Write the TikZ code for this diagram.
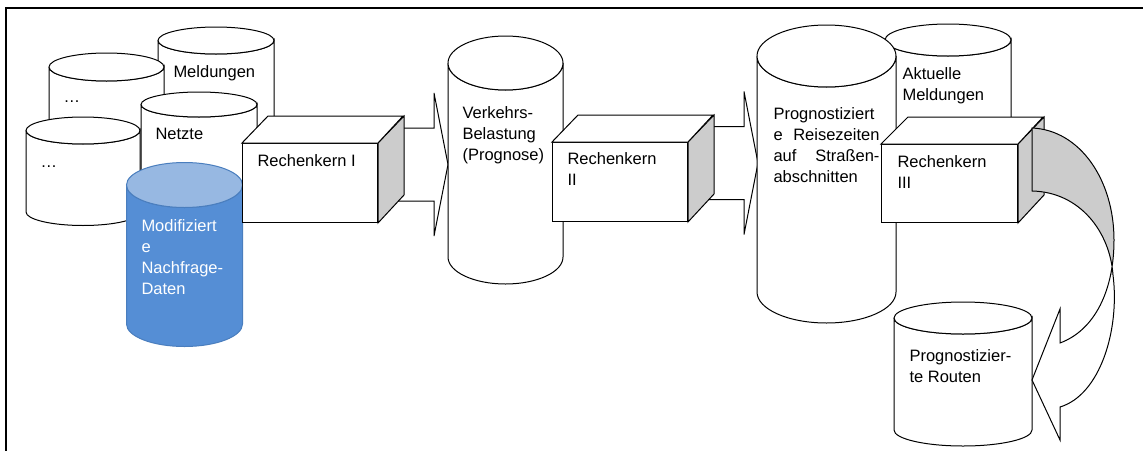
\documentclass[tikz,border=0pt]{standalone}
\usepackage{fontspec}
\setmainfont{Liberation Sans}
\usetikzlibrary{positioning, calc}

\definecolor{kerngrey}{RGB}{204,204,204}
\definecolor{nachfrageblue}{RGB}{85,142,213}
\definecolor{nachfragetop}{RGB}{151,184,226}
\definecolor{nachfrageedge}{RGB}{74,126,190}

\tikzset{
  cylw/.style={fill=white, draw=black},
  cylb/.style={fill=nachfrageblue, draw=nachfrageedge},
  cylbtop/.style={fill=nachfragetop, draw=nachfrageedge},
  kernfront/.style={draw, fill=white, inner sep=0pt},
  kernside/.style={draw, fill=kerngrey},
  kerntop/.style={draw, fill=white},
  fatarr/.style={draw, fill=white},
  txt/.style={inner sep=0pt, font=\fontsize{16.5}{21}\selectfont, align=left},
}

% name, cx, top cy, bottom cy, rx, ry, body style, top style
\newcommand{\datastore}[8]{%
  \path[#7] (#2-#5,#3) -- (#2-#5,#4)
    arc[start angle=180, end angle=0, x radius=#5, y radius=#6]
    -- (#2+#5,#3) arc[start angle=0, end angle=180, x radius=#5, y radius=#6];
  \path[#8] (#2,#3) ellipse[x radius=#5, y radius=#6];
  \coordinate (#1) at (#2,#3);
}

% from, to
\newcommand{\fatarrow}[2]{%
  \draw[fatarr] ($(#1)+(0,-36.5)$) -- ($(#2)+(-14,-36.5)$) -- ($(#2)+(-14,-71.5)$)
    -- (#2) -- ($(#2)+(-14,71.5)$) -- ($(#2)+(-14,36.5)$) -- ($(#1)+(0,36.5)$) -- cycle;
}

\newcommand{\uturnpath}{(1032,128) .. controls (1080,130) and (1114,180) .. (1114,240)
  .. controls (1114,290) and (1095,330) .. (1060,343)
  -- (1060,309) -- (1032,380) -- (1060,440) -- (1060,407)
  .. controls (1100,395) and (1120,330) .. (1113,275)
  .. controls (1110,232) and (1080,192) .. (1032,191) -- cycle}

\begin{document}
\begin{tikzpicture}[x=1pt, y=-1pt, line width=1pt]
  \useasboundingbox (0,0) rectangle (1143,450);
  \draw[line width=1.6pt] (6,455) -- (6,8) -- (1150,8);

  % input data
  \datastore{meld}{216}{40.5}{150}{58}{13.5}{cylw}{cylw}
  \node[txt, anchor=base west] (meldtxt) at (173,77) {Meldungen};
  \datastore{etc1}{106.5}{67}{160}{57.5}{14}{cylw}{cylw}
  \node[txt, anchor=base west] (etc1txt) at (63,102) {…};
  \datastore{netz}{199}{104.5}{190}{58}{12.5}{cylw}{cylw}
  \node[txt, anchor=base west] (netztxt) at (155,139) {Netzte};
  \datastore{etc2}{83}{130.5}{212}{57}{13.5}{cylw}{cylw}
  \node[txt, anchor=base west] (etc2txt) at (40,167) {…};
  \datastore{nachfr}{184.5}{185}{324}{58}{22.5}{cylb}{cylbtop}
  \node[txt, text=white, anchor=north west] (nachfrtxt) at (141,219)
    {Modifiziert\\e\\Nachfrage-\\Daten};

  % Rechenkern I
  \coordinate (arr1from) at (380,164.5);
  \coordinate (arr1to) at (448,164.5);
  \fatarrow{arr1from}{arr1to}
  \node[kernfront, minimum width=135pt, minimum height=79pt, anchor=north west] (rk1) at (242,143) {};
  \draw[kernside] (rk1.north east) -- ++(26,-27) -- ++(0,79) -- (rk1.south east) -- cycle;
  \draw[kerntop] (rk1.north west) -- ++(26,-27) -- ++(135,0) -- (rk1.north east) -- cycle;
  \node[txt, below right=11pt and 15pt of rk1.north west] (rk1txt) {Rechenkern I};

  \datastore{verk}{505.5}{63}{257}{57.5}{27}{cylw}{cylw}
  \node[txt, anchor=north west] (verktxt) at (462,106) {Verkehrs-\\Belastung\\(Prognose)};

  % Rechenkern II
  \coordinate (arr2from) at (690,163);
  \coordinate (arr2to) at (758,163);
  \fatarrow{arr2from}{arr2to}
  \node[kernfront, minimum width=135pt, minimum height=79pt, anchor=north west] (rk2) at (552,142) {};
  \draw[kernside] (rk2.north east) -- ++(26,-27) -- ++(0,79) -- (rk2.south east) -- cycle;
  \draw[kerntop] (rk2.north west) -- ++(26,-27) -- ++(135,0) -- (rk2.north east) -- cycle;
  \node[txt, below right=10pt and 15pt of rk2.north west] (rk2txt) {Rechenkern\\II};

  % Rechenkern III
  \datastore{akt}{948}{40}{150}{63}{16}{cylw}{cylw}
  \node[txt, anchor=north west] (akttxt) at (902,67) {Aktuelle\\Meldungen};
  \datastore{prog}{826.5}{56}{292}{69.5}{31}{cylw}{cylw}
  \node[txt, anchor=north west] (progtxt) at (773,107)
    {Prognostiziert\\\makebox[106pt][s]{e Reisezeiten}\\\makebox[106pt][s]{auf Straßen-}\\abschnitten};
  \datastore{rout}{963}{318}{430}{69}{16}{cylw}{cylw}
  \node[txt, anchor=north west] (routtxt) at (909,349) {Prognostizier-\\te Routen};
  \node[kernfront, minimum width=136pt, minimum height=78pt, anchor=north west] (rk3) at (881,144) {};
  \draw[kernside] (rk3.north east) -- ++(26,-27) -- ++(0,78) -- (rk3.south east) -- cycle;
  \draw[kerntop] (rk3.north west) -- ++(27,-27) -- ++(135,0) -- (rk3.north east) -- cycle;
  \node[txt, below right=11pt and 16pt of rk3.north west] (rk3txt) {Rechenkern\\III};

  \fill[white] \uturnpath;
  \begin{scope}
    \clip (1020,110) rectangle (1130,274);
    \fill[kerngrey] \uturnpath;
  \end{scope}
  \draw \uturnpath;
\end{tikzpicture}
\end{document}
